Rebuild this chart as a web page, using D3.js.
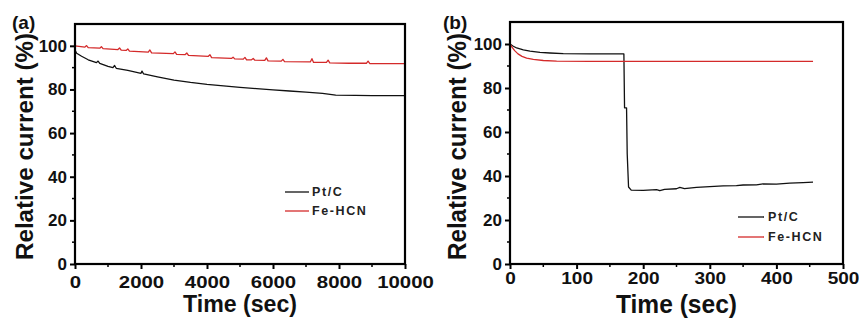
<!DOCTYPE html>
<html><head><meta charset="utf-8">
<script src="https://cdn.jsdelivr.net/npm/d3@7"></script>
<style>body{margin:0;background:#fff}svg{display:block}</style>
</head><body>
<svg id="c" width="859" height="320"></svg>
<script>
// ---- data ----
const seriesNames = ["Pt/C", "Fe-HCN"];
const colors = ["#111111", "#d42a2a"];
const panelLabels = ["(a)", "(b)"];
const xTicksA = [0, 2000, 4000, 6000, 8000, 10000];
const xTicksB = [0, 100, 200, 300, 400, 500];
const yTicks = [0, 20, 40, 60, 80, 100];

// panel (a): long-term chronoamperometry, time (s), relative current (%)
const ptA = [[0,98],[50,96.6],[200,95.2],[400,93.6],[650,92.3],[700,93.0],[750,92],[1000,90.6],[1150,90],[1200,91.0],[1250,89.7],[1600,88.7],[1700,88.4],[2000,87.4],[2030,88.4],[2080,87.1],[2500,85.8],[3000,84.3],[3500,83.2],[4000,82.3],[4500,81.6],[5000,81],[5500,80.4],[6000,79.8],[6500,79.3],[7000,78.8],[7500,78.2],[7900,77.4],[8500,77.3],[9000,77.2],[10000,77.2]];
const feA = [[0,100],[300,99.4],[350,100.1],[400,99.2],[750,98.9],[800,99.6],[850,98.7],[1300,98.3],[1350,99.0],[1400,98],[1550,97.9],[1600,98.6],[1650,97.6],[2220,97.1],[2270,98.1],[2320,96.8],[2980,96.4],[3030,97.2],[3080,96.1],[3340,96],[3390,96.7],[3440,95.6],[4040,95.2],[4090,95.9],[4140,94.6],[4740,94.2],[4790,94.8],[4840,94],[5100,93.9],[5150,94.7],[5200,93.6],[5350,93.6],[5400,94.2],[5450,93.4],[5750,93.3],[5800,94.5],[5850,93.1],[6250,93],[6300,93.8],[6350,92.8],[7130,92.6],[7180,94.1],[7230,92.4],[7620,92.4],[7670,93.4],[7720,92.2],[8300,92],[8830,92],[8880,93.0],[8930,91.9],[9500,91.8],[10000,91.8]];

// panel (b): methanol injection test
const ptB = [[0,100],[5,99],[10,98.2],[20,97.3],[30,96.8],[45,96.2],[60,95.9],[80,95.6],[120,95.5],[171,95.5],[172,71],[175,71],[176,50],[178,35],[182,33.6],[200,33.5],[220,33.8],[225,33.3],[232,33.9],[250,34.2],[255,34.8],[262,34.3],[280,34.8],[300,35.2],[320,35.5],[340,35.6],[350,35.9],[370,36],[380,36.4],[400,36.3],[420,36.8],[440,37],[455,37.2]];
const feB = [[0,100],[3,98.6],[7,97],[12,95.5],[18,94.4],[25,93.6],[35,93],[50,92.5],[70,92.2],[120,92.1],[200,92.1],[300,92.1],[400,92.1],[455,92.1]];

// ---- drawing ----
const svg = d3.select("#c");
const FONT = "Liberation Sans, Arial, sans-serif";

function panel(cfg) {
  const {x0, x1, y0, y1, xDomain, xTicks, xMinor, series, legend, xLabelScale, xLabelDy,
         xTitleSize, xTitleY, xTitleLen, yTitleX, yTitleSize, yTitleBottom, yTitleLen, label, labelX} = cfg;
  const x = d3.scaleLinear().domain(xDomain).range([x0, x1]);
  const y = d3.scaleLinear().domain([0, 110]).range([y1, y0]);
  const g = svg.append("g");

  const yMinor = [10, 30, 50, 70, 90];
  g.selectAll(".ym").data(yMinor).join("line")
    .attr("x1", x0 - 3).attr("x2", x0).attr("y1", d => y(d)).attr("y2", d => y(d))
    .attr("stroke", "#000").attr("stroke-width", 1.5);
  g.selectAll(".xm").data(xMinor).join("line")
    .attr("x1", d => x(d)).attr("x2", d => x(d)).attr("y1", y1).attr("y2", y1 + 3)
    .attr("stroke", "#000").attr("stroke-width", 1.5);

  const xa = g.append("g").attr("transform", `translate(0,${y1})`)
    .call(d3.axisBottom(x).tickValues(xTicks).tickSize(5).tickPadding(xLabelDy).tickFormat(d3.format("d")));
  xa.select(".domain").remove();
  xa.selectAll("line").attr("stroke-width", 2);
  xa.selectAll(".tick text").attr("font-family", FONT).attr("font-weight", "bold")
    .attr("font-size", 17).attr("fill", "#111").attr("transform", `scale(${xLabelScale},1)`);

  const ya = g.append("g").attr("transform", `translate(${x0},0)`)
    .call(d3.axisLeft(y).tickValues(yTicks).tickSize(5).tickPadding(3));
  ya.select(".domain").remove();
  ya.selectAll("line").attr("stroke-width", 2);
  ya.selectAll("text").attr("font-family", FONT).attr("font-weight", "bold").attr("font-size", 17).attr("fill", "#111");

  const line = d3.line().x(d => x(d[0])).y(d => y(d[1]));
  series.forEach((s, i) => {
    g.append("path").datum(s).attr("d", line).attr("fill", "none")
      .attr("stroke", colors[i]).attr("stroke-width", 1.3).attr("stroke-linejoin", "round");
  });

  g.append("rect").attr("x", x0).attr("y", y0).attr("width", x1 - x0).attr("height", y1 - y0)
    .attr("fill", "none").attr("stroke", "#000").attr("stroke-width", 2.2);

  seriesNames.forEach((n, i) => {
    const ly = legend.y[i];
    g.append("line").attr("x1", legend.lx0).attr("x2", legend.lx1).attr("y1", ly).attr("y2", ly)
      .attr("stroke", colors[i]).attr("stroke-width", 1.3);
    g.append("text").attr("x", legend.tx).attr("y", ly).attr("dy", "0.35em")
      .attr("font-family", FONT).attr("font-weight", "bold").attr("font-size", 12.5)
      .attr("letter-spacing", 1.6).attr("fill", "#222").text(n);
  });

  g.append("text").attr("x", (x0 + x1) / 2).attr("y", xTitleY).attr("text-anchor", "middle")
    .attr("font-family", FONT).attr("font-weight", "bold").attr("font-size", xTitleSize).attr("fill", "#111")
    .attr("textLength", xTitleLen).attr("lengthAdjust", "spacingAndGlyphs")
    .text("Time (sec)");
  g.append("text").attr("transform", `translate(${yTitleX},${yTitleBottom}) rotate(-90)`).attr("text-anchor", "start")
    .attr("font-family", FONT).attr("font-weight", "bold").attr("font-size", yTitleSize).attr("fill", "#111")
    .attr("textLength", yTitleLen).attr("lengthAdjust", "spacingAndGlyphs")
    .text("Relative current (%)");
  g.append("text").attr("x", labelX).attr("y", 29)
    .attr("font-family", FONT).attr("font-weight", "bold").attr("font-size", 19).attr("fill", "#111")
    .text(label);
}

panel({x0: 75, x1: 405, y0: 24, y1: 264, xDomain: [0, 10000], xTicks: xTicksA,
  xMinor: [1000, 3000, 5000, 7000, 9000], series: [ptA, feA],
  legend: {lx0: 285, lx1: 309, tx: 312, y: [192, 211]},
  xLabelScale: 1.2, xLabelDy: 7, xTitleSize: 23, xTitleY: 312, xTitleLen: 114,
  yTitleX: 33, yTitleSize: 24, yTitleBottom: 260, yTitleLen: 227,
  label: panelLabels[0], labelX: 12});
panel({x0: 510, x1: 843, y0: 22, y1: 264, xDomain: [0, 500], xTicks: xTicksB,
  xMinor: [50, 150, 250, 350, 450], series: [ptB, feB],
  legend: {lx0: 738, lx1: 764, tx: 768, y: [217, 237]},
  xLabelScale: 1.12, xLabelDy: 3, xTitleSize: 25, xTitleY: 313, xTitleLen: 121,
  yTitleX: 466, yTitleSize: 25, yTitleBottom: 260, yTitleLen: 227,
  label: panelLabels[1], labelX: 443});
</script>
</body></html>
